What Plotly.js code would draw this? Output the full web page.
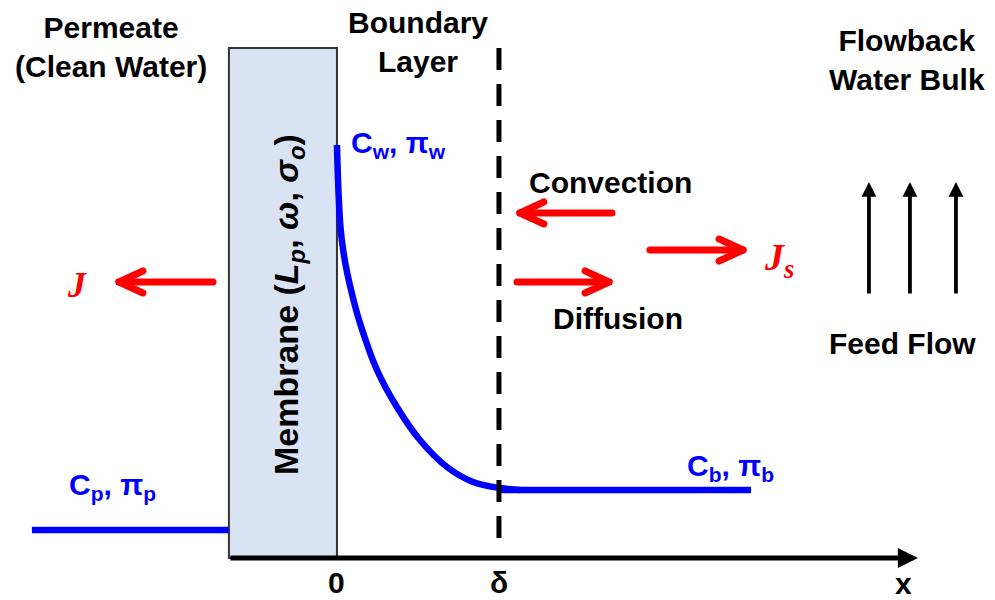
<!DOCTYPE html>
<html>
<head>
<meta charset="utf-8">
<script src="https://cdn.plot.ly/plotly-3.0.1.min.js"></script>
<style>
  html, body { margin: 0; padding: 0; background: #ffffff; }
  #chart { width: 995px; height: 600px; }
</style>
</head>
<body>
<div id="chart"></div>
<script>
// ---------------- data (x in units of δ, concentration in units of Cb) ----------------
const permeateX = [-1.883, -0.667];
const permeateC = [0.41, 0.41];

const profileX = [0, 0.009, 0.022, 0.040, 0.062, 0.099, 0.142, 0.247, 0.370, 0.512, 0.679, 0.840, 1.006, 1.130];
const profileC = [6.074, 5.412, 4.853, 4.500, 4.206, 3.824, 3.456, 2.765, 2.221, 1.735, 1.338, 1.118, 1.029, 1.0];

const bulkX = [1.0, 2.556];
const bulkC = [1.0, 1.0];

const membraneX = [-0.667, 0];
const membraneTop = 7.5;
const deltaX = 1;
const deltaSpan = [7.5, 0.19];

const tickVals = [0, 1];
const tickText = ['0', 'δ'];

// flux arrows: [tailX, tipX, y]
const redArrows = [
  { name: 'Convection', tail: 1.698, tip: 1.111, y: 5.074 },
  { name: 'Diffusion',  tail: 1.111, tip: 1.698, y: 4.059 },
  { name: 'Js',         tail: 1.932, tip: 2.525, y: 4.529 },
  { name: 'J',          tail: -0.765, tip: -1.364, y: 4.059 }
];
const flowArrowX = [3.284, 3.537, 3.821];
const flowArrowY = [3.868, 5.529];
const axisArrow = { tail: -0.667, tip: 3.586 };

// ---------------- helpers ----------------
const W = 995, H = 600;
const px = v => v / W;
const py = v => 1 - v / H;
const FONT = 'Liberation Sans, Arial, sans-serif';
const BLUE = '#0000ff', RED = '#ff0000';
const FS = 30;

const traces = [
  { x: permeateX, y: permeateC, mode: 'lines', line: { color: BLUE, width: 6.5 }, hoverinfo: 'skip' },
  { x: profileX, y: profileC, mode: 'lines', line: { color: BLUE, width: 6.5, shape: 'spline', smoothing: 1 }, hoverinfo: 'skip' },
  { x: bulkX, y: bulkC, mode: 'lines', line: { color: BLUE, width: 6.5 }, hoverinfo: 'skip' }
];

// chevron head size in data units
const headBack = 24 / 162, headHalf = 11 / 68;
redArrows.forEach(a => {
  const dir = Math.sign(a.tip - a.tail);
  const tip = a.tip - dir * 0.018;
  traces.push({
    x: [a.tail, tip, null, tip - dir * headBack, tip, tip - dir * headBack],
    y: [a.y, a.y, null, a.y + headHalf, a.y, a.y - headHalf],
    mode: 'lines', line: { color: RED, width: 7 }, hoverinfo: 'skip'
  });
});

const annotations = [];
function label(text, x, y, size, color, opts) {
  annotations.push(Object.assign({
    text: text, xref: 'paper', yref: 'paper', x: px(x), y: py(y),
    xanchor: 'center', yanchor: 'middle', showarrow: false,
    font: { family: FONT, size: size, color: color || '#000000' }
  }, opts || {}));
}

label('<b>Permeate<br>(Clean Water)</b>', 111, 47, FS);
label('<b>Boundary<br>Layer</b>', 418, 42, FS);
label('<b>Flowback<br>Water Bulk</b>', 907, 60, FS);
label('<b>Convection</b>', 610, 183, FS);
label('<b>Diffusion</b>', 618, 318, FS);
label('<b>Feed Flow</b>', 902, 343, FS);
label('<b>C<sub>w</sub>, π<sub>w</sub></b>', 349, 144, FS, BLUE, { xanchor: 'left' });
label('<b>C<sub>p</sub>, π<sub>p</sub></b>', 67, 486, FS, BLUE, { xanchor: 'left' });
label('<b>C<sub>b</sub>, π<sub>b</sub></b>', 685, 467, FS, BLUE, { xanchor: 'left' });
label('<b>Membrane (<i>L<sub>p</sub></i>, <i>ω</i>, <i>σ<sub>o</sub></i>)</b>', 288, 305, 34, '#000000', { textangle: -90 });
label('<b><i>J</i></b>', 77, 285, 36, RED, { font: { family: 'Liberation Serif, Times New Roman, serif', size: 36, color: RED } });
label('<b><i>J<sub>s</sub></i></b>', 779, 260, 38, RED, { font: { family: 'Liberation Serif, Times New Roman, serif', size: 38, color: RED } });
label('<b>x</b>', 903, 583, FS);

// axis tick labels at data positions
tickVals.forEach((v, i) => {
  annotations.push({
    text: '<b>' + tickText[i] + '</b>', xref: 'x', yref: 'paper', x: v, y: py(582),
    xanchor: 'center', yanchor: 'middle', showarrow: false,
    font: { family: FONT, size: FS, color: '#000000' }
  });
});

// x axis arrow
annotations.push({
  text: '', xref: 'x', yref: 'y', x: axisArrow.tip, y: 0,
  axref: 'x', ayref: 'y', ax: axisArrow.tail, ay: 0,
  showarrow: true, arrowhead: 2, arrowsize: 0.8, arrowwidth: 5, arrowcolor: '#000000', standoff: 0
});
// feed flow arrows
flowArrowX.forEach(xv => {
  annotations.push({
    text: '', xref: 'x', yref: 'y', x: xv, y: flowArrowY[1],
    axref: 'x', ayref: 'y', ax: xv, ay: flowArrowY[0],
    showarrow: true, arrowhead: 2, arrowsize: 0.78, arrowwidth: 3.8, arrowcolor: '#000000', standoff: 0
  });
});

const shapes = [
  { type: 'rect', xref: 'x', yref: 'y', x0: membraneX[0], x1: membraneX[1], y0: 0, y1: membraneTop,
    fillcolor: '#dae3f3', line: { color: '#333333', width: 2 }, layer: 'below' },
  { type: 'line', xref: 'x', yref: 'y', x0: deltaX, x1: deltaX, y0: deltaSpan[0], y1: deltaSpan[1],
    line: { color: '#000000', width: 5, dash: '22px,14px' }, layer: 'above' }
];

const layout = {
  width: W, height: H,
  margin: { l: 0, r: 0, t: 0, b: 0 },
  paper_bgcolor: '#ffffff', plot_bgcolor: '#ffffff',
  showlegend: false,
  xaxis: { range: [-2.080, 4.062], visible: false, fixedrange: true },
  yaxis: { range: [-0.618, 8.206], visible: false, fixedrange: true },
  shapes: shapes,
  annotations: annotations
};

Plotly.newPlot('chart', traces, layout, { staticPlot: true }).then(gd => {
  const tr = gd.querySelectorAll('.scatterlayer .trace');
  for (let i = 3; i < tr.length; i++) {
    tr[i].querySelectorAll('path.js-line').forEach(p => {
      p.style.strokeLinecap = 'round';
      p.style.strokeLinejoin = 'round';
    });
  }
});
</script>
</body>
</html>
